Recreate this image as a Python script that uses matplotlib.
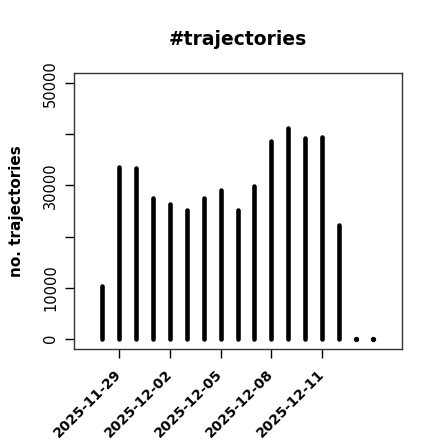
import matplotlib
matplotlib.use("Agg")
from matplotlib import pyplot as plt

# Datos: trayectorias por día
dates = ["2025-11-28", "2025-11-29", "2025-11-30", "2025-12-01", "2025-12-02",
         "2025-12-03", "2025-12-04", "2025-12-05", "2025-12-06", "2025-12-07",
         "2025-12-08", "2025-12-09", "2025-12-10", "2025-12-11", "2025-12-12",
         "2025-12-13", "2025-12-14"]
counts = [10400, 33700, 33500, 27600, 26300, 25100, 27600, 29200, 25100, 29800,
          38600, 41200, 39200, 39400, 22300, 0, 0]
tick_dates = ["2025-11-29", "2025-12-02", "2025-12-05", "2025-12-08", "2025-12-11"]
y_ticks = [0, 10000, 20000, 30000, 40000, 50000]
y_labels = ["0", "10000", "", "30000", "", "50000"]

fig = plt.figure(figsize=(4.4, 4.4), dpi=100)
ax = fig.add_axes([0.168, 0.207, 0.746, 0.627])

x = list(range(len(dates)))
ax.vlines(x, 0, counts, colors="black", linewidth=3.3, capstyle="round")
# puntos para los días sin datos
ax.plot([i for i in x if counts[i] == 0], [0 for c in counts if c == 0],
        "o", color="black", markersize=2.8)

ax.set_xlim(-1.65, 17.71)
ax.set_ylim(-2000, 52000)

ax.set_yticks(y_ticks)
ax.set_yticklabels(y_labels, rotation=90, va="center", fontsize=10.5)
ax.set_xticks([dates.index(d) for d in tick_dates])
ax.set_xticklabels(tick_dates, rotation=45, ha="right", va="center",
                   rotation_mode="anchor", fontsize=10, fontweight="bold")
ax.tick_params(axis="both", length=6.5, width=1.0, color="black")
ax.tick_params(axis="y", pad=5)
ax.tick_params(axis="x", pad=10)

for s in ax.spines.values():
    s.set_color("#333333")
    s.set_linewidth(1.0)

ax.set_title("#trajectories", fontsize=13.5, fontweight="bold", pad=20)
ax.set_ylabel("no. trajectories", fontsize=11, fontweight="bold", labelpad=14)

fig.savefig("out.png", dpi=100)
